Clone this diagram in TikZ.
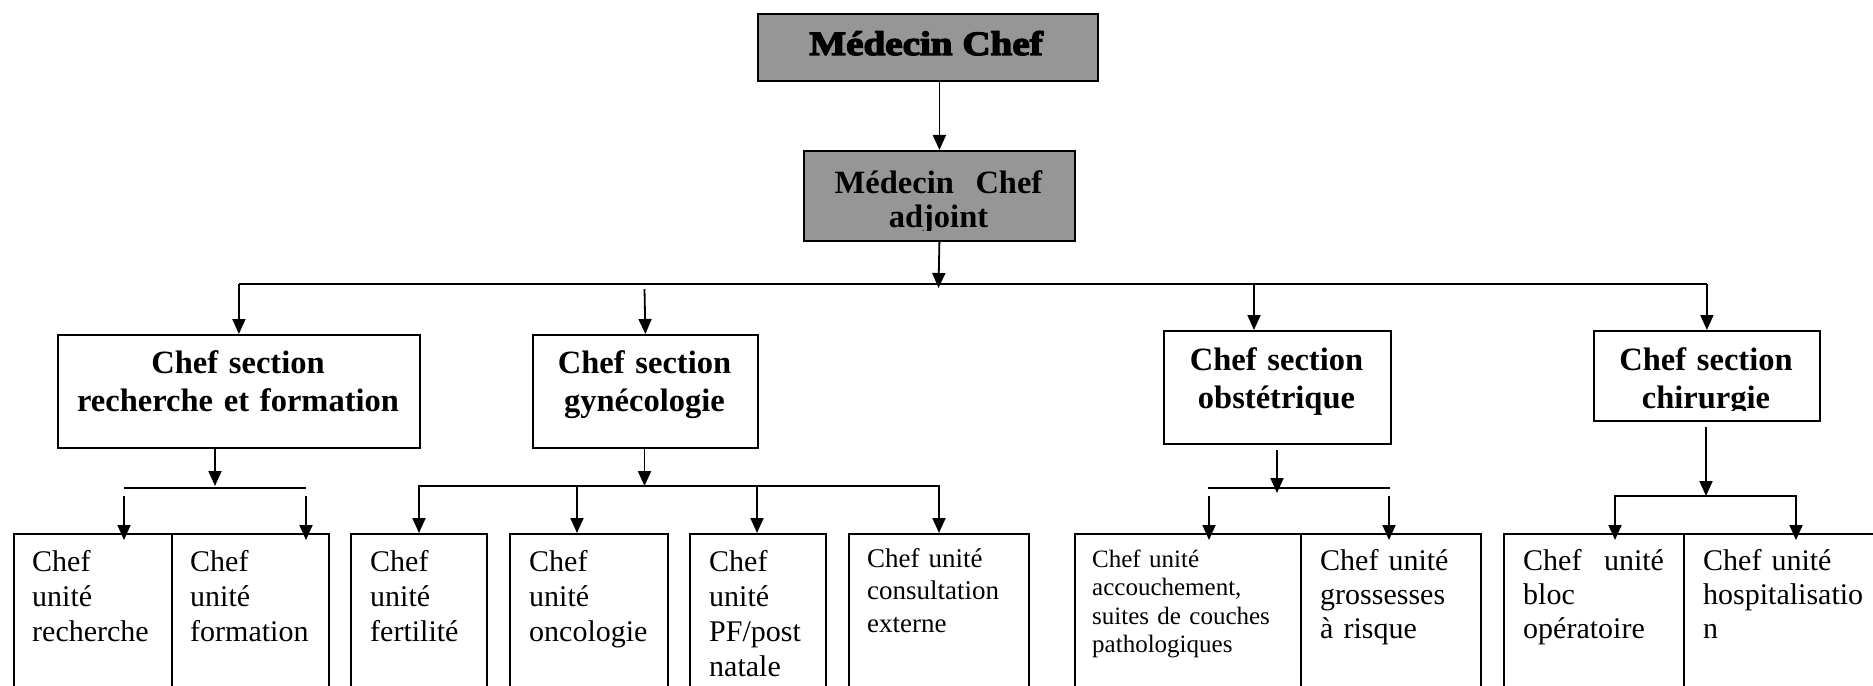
\documentclass[tikz,border=0pt]{standalone}
\usepackage{fontspec}
\setmainfont{Liberation Serif}
\newfontfamily\heavyfont{Liberation Serif}[FakeBold=4,FakeStretch=1.15]
\usetikzlibrary{arrows.meta}
\definecolor{boxgray}{RGB}{150,150,150}
\tikzset{
  box/.style={draw, line width=1.8bp, rectangle, inner sep=0pt, anchor=north west},
  graybox/.style={box, fill=boxgray},
  ln/.style={line width=1.8bp},
  arr/.style={line width=1.8bp, -{Triangle[length=15bp,width=13bp]}},
  arrtwo/.style={line width=1.8bp, {Triangle[length=15bp,width=13bp]}-{Triangle[length=15bp,width=13bp]}},
  sectxt/.style={font=\fontsize{32.5bp}{38bp}\selectfont\bfseries, text width=360bp, align=center, inner sep=0pt, anchor=base},
  utxt/.style={font=\fontsize{30bp}{35bp}\selectfont, text width=300bp, align=left, inner sep=0pt, anchor=base west},
}
\begin{document}
\begin{tikzpicture}[x=1bp,y=-1bp]
\useasboundingbox (0,0) rectangle (1873,686);
\clip (0,0) rectangle (1873,686);
\fill[white] (0,0) rectangle (1873,686);

% level 0 and 1
\node[graybox, minimum width=340bp, minimum height=67bp] (chef) at (757,13) {};
\node[inner sep=0pt, anchor=base, font=\heavyfont\bfseries\fontsize{34bp}{40bp}\selectfont] (tchef) at (926,55) {Médecin Chef};
\node[graybox, minimum width=271bp, minimum height=90bp] (adj) at (803,150) {};
\begin{scope}
  \clip (803,150) rectangle (1074,230);
  \node[sectxt, font=\fontsize{32.5bp}{34bp}\selectfont\bfseries, text width=260bp] (tadj) at (938.5,193) {Médecin\ \ Chef\\adjoint};
\end{scope}

% level 2
\node[box, minimum width=362bp, minimum height=113bp] (rf) at (57,334) {};
\node[sectxt] (trf) at (238,373) {Chef section\\recherche et formation};
\node[box, minimum width=225bp, minimum height=113bp] (gyn) at (532,334) {};
\node[sectxt, text width=220bp] (tgyn) at (644.5,373) {Chef section\\gynécologie};
\node[box, minimum width=227bp, minimum height=113bp] (obs) at (1163,330) {};
\node[sectxt, text width=220bp] (tobs) at (1276.5,370) {Chef section\\obstétrique};
\node[box, minimum width=226bp, minimum height=90bp] (chir) at (1593,330) {};
\begin{scope}
  \clip (1593,330) rectangle (1819,410);
  \node[sectxt, text width=220bp] (tchir) at (1706,370) {Chef section\\chirurgie};
\end{scope}

% level 3 boxes
\node[box, minimum width=158bp, minimum height=200bp] (rech) at (13,533) {};
\node[box, minimum width=157bp, minimum height=200bp] (form) at (171,533) {};
\node[box, minimum width=136bp, minimum height=200bp] (fert) at (350,533) {};
\node[box, minimum width=158bp, minimum height=200bp] (onco) at (509,533) {};
\node[box, minimum width=136bp, minimum height=200bp] (pf) at (689,533) {};
\node[box, minimum width=180bp, minimum height=200bp] (cons) at (848,533) {};
\node[box, minimum width=226bp, minimum height=200bp] (acc) at (1074,533) {};
\node[box, minimum width=180bp, minimum height=200bp] (gros) at (1300,533) {};
\node[box, minimum width=180bp, minimum height=200bp] (bloc) at (1503,533) {};
\node[box, minimum width=200bp, minimum height=200bp] (hosp) at (1683,533) {};

% level 3 texts
\node[utxt] (trech) at (32,571) {Chef\\unité\\recherche};
\node[utxt] (tform) at (190,571) {Chef\\unité\\formation};
\node[utxt] (tfert) at (370,571) {Chef\\unité\\fertilité};
\node[utxt] (tonco) at (529,571) {Chef\\unité\\oncologie};
\node[utxt] (tpf) at (709,571) {Chef\\unité\\PF/post\\natale};
\node[utxt, font=\fontsize{27bp}{32.5bp}\selectfont] (tcons) at (867,567) {Chef unité\\consultation\\externe};
\node[utxt, font=\fontsize{25bp}{28.5bp}\selectfont] (tacc) at (1092,567) {Chef unité\\accouchement,\\suites de couches\\pathologiques};
\node[utxt, font=\fontsize{30bp}{34bp}\selectfont] (tgros) at (1320,570) {Chef unité\\grossesses\\à risque};
\node[utxt, font=\fontsize{30bp}{34bp}\selectfont] (tbloc) at (1523,570) {Chef\hspace{0.75em}unité\\bloc\\opératoire};
\node[utxt, font=\fontsize{30bp}{34bp}\selectfont] (thosp) at (1703,570) {Chef unité\\hospitalisatio\\n};

% connectors top
\draw[arr] (chef.south -| adj.north) -- (adj.north);
\coordinate (j0) at (938.5,284);
\coordinate (j0tip) at (938.5,288);
\draw[arr] (adj.south) -- (j0tip);
\draw[ln] (rf.north |- j0) -- (chir.north |- j0);
\draw[arr] (rf.north |- j0) -- (rf.north);
\coordinate (g0) at (644.5,289);
\draw[arr] (g0) -- (gyn.north);
\coordinate (o0) at (1254,284);
\draw[arr] (o0) -- (o0 |- obs.north);
\draw[arr] (chir.north |- j0) -- (chir.north);

% recherche et formation group
\coordinate (rfj) at (215,486);
\draw[arr] (rfj |- rf.south) -- (rfj);
\coordinate (rfl) at (124,488);
\coordinate (rfr) at (306,488);
\draw[ln] (rfl) -- (rfr);
\coordinate (rfl2) at (124,496);
\coordinate (rfr2) at (306,496);
\draw[arr, shorten >=-7bp] (rfl2) -- (rfl2 |- rech.north);
\draw[arr, shorten >=-7bp] (rfr2) -- (rfr2 |- form.north);

% gynecologie group
\coordinate (gj) at (644.5,486);
\draw[arr] (gj |- gyn.south) -- (gj);
\coordinate (g1) at (419,486);
\coordinate (g2) at (577,486);
\coordinate (g3) at (757,486);
\coordinate (g4) at (939,486);
\draw[arrtwo] (g1 |- fert.north) -- (g1) -- (g4) -- (g4 |- cons.north);
\draw[arr] (g2) -- (g2 |- onco.north);
\draw[arr] (g3) -- (g3 |- pf.north);

% obstetrique group
\coordinate (o1) at (1277,450);
\coordinate (oj) at (1277,493);
\draw[arr] (o1) -- (oj);
\coordinate (ol) at (1208,488);
\coordinate (or) at (1390,488);
\draw[ln] (ol) -- (or);
\coordinate (ol2) at (1209,496);
\coordinate (or2) at (1389,496);
\draw[arr, shorten >=-7bp] (ol2) -- (ol2 |- acc.north);
\draw[arr, shorten >=-7bp] (or2) -- (or2 |- gros.north);

% chirurgie group
\coordinate (c0) at (1706,427);
\coordinate (cj) at (1706,496);
\draw[arr] (c0) -- (cj);
\coordinate (c1) at (1615,496);
\coordinate (c2) at (1796,496);
\draw[arrtwo, shorten >=-7bp, shorten <=-7bp] (c1 |- bloc.north) -- (c1) -- (c2) -- (c2 |- hosp.north);
\end{tikzpicture}
\end{document}
